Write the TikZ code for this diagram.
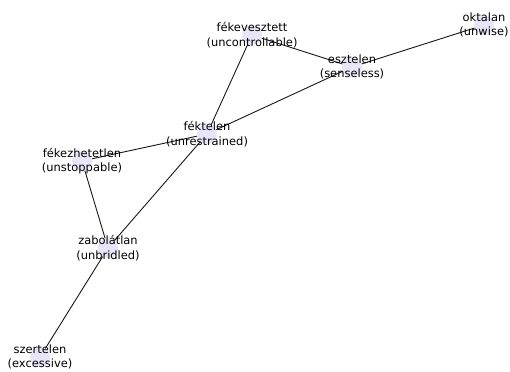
\documentclass[tikz,border=0pt]{standalone}
\usepackage{fontspec}
\setmainfont{DejaVu Sans}
\usepackage{tikz}
\definecolor{nodelav}{HTML}{E8E5F8}
\definecolor{edgedark}{HTML}{1C1416}

\begin{document}
\begin{tikzpicture}[x=1bp,y=-1bp,
    word/.style={circle,fill=nodelav,minimum size=20bp,inner sep=0pt},
    gloss/.style={align=center,inner sep=0pt,font=\fontsize{11.5}{14.8}\selectfont},
    link/.style={edgedark,line width=0.9pt}]
\useasboundingbox (0,0) rectangle (510,371);
% node discs
\foreach \n/\x/\y in {fv/252/35,esz/352/67,okt/484/25,fkt/207/134,fkz/82/161,zab/108/248,szt/40/357}
    \node[word] (\n) at (\x,\y) {};
% edges
\draw[link] (fv) -- (fkt);
\draw[link] (fv) -- (esz);
\draw[link] (esz) -- (okt);
\draw[link] (esz) -- (fkt);
\draw[link] (fkt) -- (fkz);
\draw[link] (fkt) -- (zab);
\draw[link] (fkz) -- (zab);
\draw[link] (zab) -- (szt);
% labels
\node[gloss] (fv-t) at (fv) {fékevesztett\\(uncontrollable)};
\node[gloss] (esz-t) at (esz) {esztelen\\(senseless)};
\node[gloss] (okt-t) at (okt) {oktalan\\(unwise)};
\node[gloss] (fkt-t) at (fkt) {féktelen\\(unrestrained)};
\node[gloss] (fkz-t) at (fkz) {fékezhetetlen\\(unstoppable)};
\node[gloss] (zab-t) at (zab) {zabolátlan\\(unbridled)};
\node[gloss] (szt-t) at (szt) {szertelen\\(excessive)};
\end{tikzpicture}
\end{document}
